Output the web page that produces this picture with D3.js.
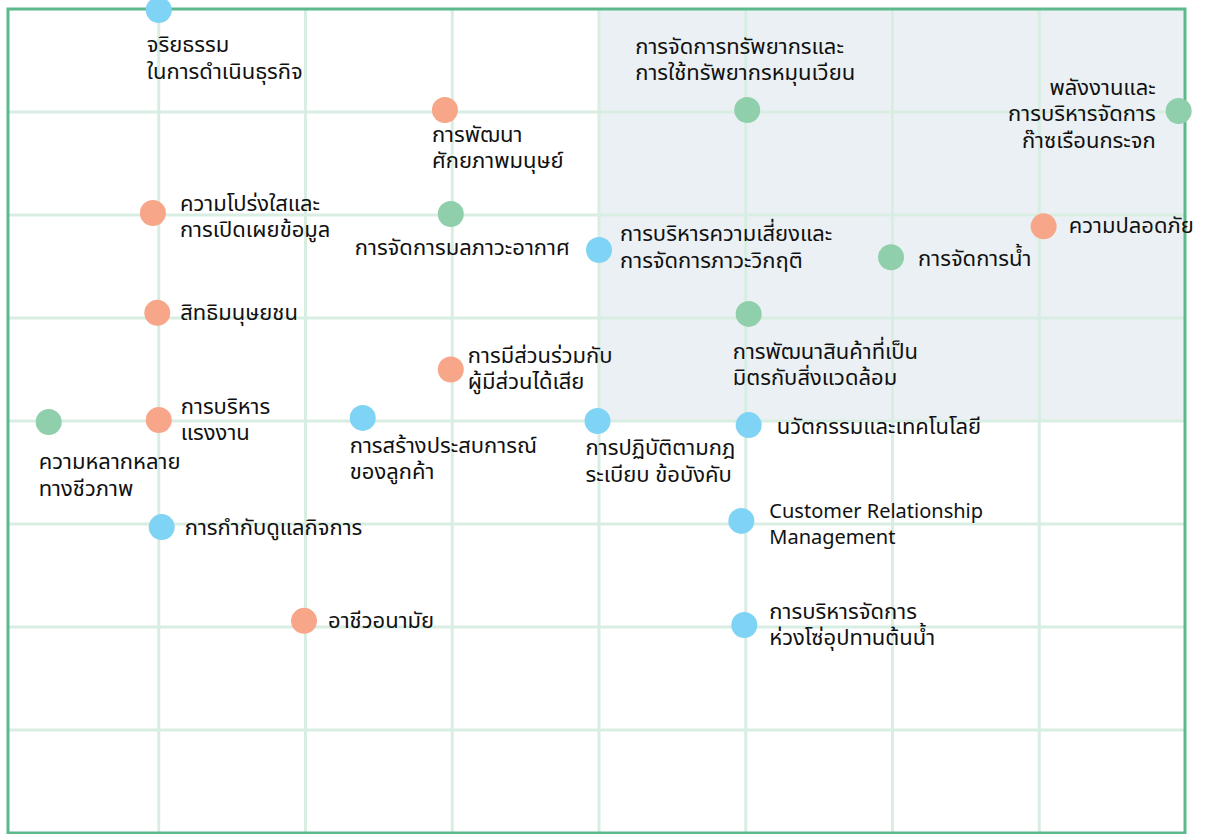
<!DOCTYPE html>
<meta charset="utf-8">
<style>
    body {
        margin: 0;
        background: #fff;
        font-family: "Noto Sans Thai", "Noto Sans", "DejaVu Sans", sans-serif;
    }

    .grid line {
        stroke: #d9eee2;
        stroke-width: 3;
    }

    .topic text {
        font-size: 22px;
        fill: #111;
    }

    .topic text.latin {
        font-size: 20px;
    }
</style>

<body>
    <script src="https://cdn.jsdelivr.net/npm/d3@7/dist/d3.min.js"></script>
    <script>

        // material topics
        var topics = [
            "จริยธรรม\nในการดำเนินธุรกิจ",
            "การพัฒนา\nศักยภาพมนุษย์",
            "ความโปร่งใสและ\nการเปิดเผยข้อมูล",
            "การจัดการมลภาวะอากาศ",
            "การจัดการทรัพยากรและ\nการใช้ทรัพยากรหมุนเวียน",
            "พลังงานและ\nการบริหารจัดการ\nก๊าซเรือนกระจก",
            "ความปลอดภัย",
            "การบริหารความเสี่ยงและ\nการจัดการภาวะวิกฤติ",
            "การจัดการน้ำ",
            "สิทธิมนุษยชน",
            "การพัฒนาสินค้าที่เป็น\nมิตรกับสิ่งแวดล้อม",
            "การมีส่วนร่วมกับ\nผู้มีส่วนได้เสีย",
            "ความหลากหลาย\nทางชีวภาพ",
            "การบริหาร\nแรงงาน",
            "การสร้างประสบการณ์\nของลูกค้า",
            "การปฏิบัติตามกฎ\nระเบียบ ข้อบังคับ",
            "นวัตกรรมและเทคโนโลยี",
            "การกำกับดูแลกิจการ",
            "Customer Relationship\nManagement",
            "อาชีวอนามัย",
            "การบริหารจัดการ\nห่วงโซ่อุปทานต้นน้ำ"
        ];

        // impact on business (x) and importance to stakeholders (y), 0-8
        var businessImpact = [1.0, 2.95, 0.96, 2.99, 5.01, 7.95, 7.03, 4.0, 5.99, 0.99, 5.02,
            2.99, 0.25, 1.0, 2.39, 3.99, 5.02, 1.02, 4.97, 1.99, 4.99];
        var stakeholderImportance = [7.99, 7.02, 6.02, 6.01, 7.02, 7.01, 5.89, 5.66, 5.59, 5.05, 5.04,
            4.5, 3.99, 4.01, 4.03, 4.0, 3.96, 2.97, 3.03, 2.06, 2.02];

        // economic / social / environment
        var dimension = ["econ", "social", "social", "env", "env", "env", "social", "econ", "env", "social", "env",
            "social", "env", "social", "econ", "econ", "econ", "econ", "econ", "social", "econ"];

        var gridTicks = [1, 2, 3, 4, 5, 6, 7];
        var highZone = [4, 8]; // high/high quadrant

        // label offsets from the dot: dx, dy (centre of first line), anchor
        var labelPlace = [
            [-12, 35, "start"], [-13, 25, "start"], [27, -9, "start"], [119, 34, "end"],
            [-112, -63, "start"], [-23, -23, "end"], [25, 0, "start"], [21, -16, "start"],
            [27, 2, "start"], [23, 0, "start"], [-16, 38, "start"], [17, -14, "start"],
            [-10, 40, "start"], [22, -13, "start"], [-13, 28, "start"], [-12, 27, "start"],
            [28, 2, "start"], [23, 1, "start"], [28, -9, "start"], [24, 0, "start"],
            [25, -13, "start"]
        ];

        var data = topics.map(function (t, i) {
            return {
                name: t,
                x: businessImpact[i],
                y: stakeholderImportance[i],
                dim: dimension[i],
                place: labelPlace[i]
            };
        });

        var width = 1205,
            height = 834;

        var svg = d3.select("body").append("svg")
            .attr("width", width)
            .attr("height", height);

        var x = d3.scaleLinear().domain([0, 8]).range([12, 1186]),
            y = d3.scaleLinear().domain([0, 8]).range([833, 9]);

        var color = d3.scaleOrdinal()
            .domain(["econ", "social", "env"])
            .range(["#7fd3f4", "#f7a68a", "#90cfab"]);

        // shaded quadrant
        svg.append("rect")
            .attr("x", x(highZone[0]))
            .attr("y", y(highZone[1]))
            .attr("width", x(8) - x(highZone[0]))
            .attr("height", y(highZone[0]) - y(highZone[1]))
            .attr("fill", "#ebf0f4");

        var grid = svg.append("g").attr("class", "grid");

        grid.selectAll(".v")
            .data(gridTicks)
            .enter().append("line")
            .attr("class", "v")
            .attr("x1", function (d) { return x(d); })
            .attr("x2", function (d) { return x(d); })
            .attr("y1", y(8))
            .attr("y2", y(0));

        grid.selectAll(".h")
            .data(gridTicks)
            .enter().append("line")
            .attr("class", "h")
            .attr("y1", function (d) { return y(d); })
            .attr("y2", function (d) { return y(d); })
            .attr("x1", 8)
            .attr("x2", x(8));

        // frame
        svg.append("rect")
            .attr("x", 8)
            .attr("y", y(8))
            .attr("width", x(8) - 1 - 8)
            .attr("height", y(0) - y(8))
            .attr("fill", "none")
            .attr("stroke", "#5cb98c")
            .attr("stroke-width", 3);

        var topic = svg.selectAll(".topic")
            .data(data)
            .enter().append("g")
            .attr("class", "topic")
            .attr("transform", function (d) {
                return "translate(" + x(d.x) + "," + y(d.y) + ")";
            });

        topic.append("circle")
            .attr("r", 13)
            .attr("fill", function (d) { return color(d.dim); });

        topic.append("text")
            .attr("class", function (d) { return /[A-Za-z]/.test(d.name) ? "latin" : null; })
            .attr("text-anchor", function (d) { return d.place[2]; })
            .attr("dominant-baseline", "central")
            .each(function (d) {
                var t = d3.select(this);
                d.name.split("\n").forEach(function (line, i) {
                    t.append("tspan")
                        .attr("x", d.place[0])
                        .attr("y", d.place[1] + i * 26.5)
                        .text(line);
                });
            });

    </script>
